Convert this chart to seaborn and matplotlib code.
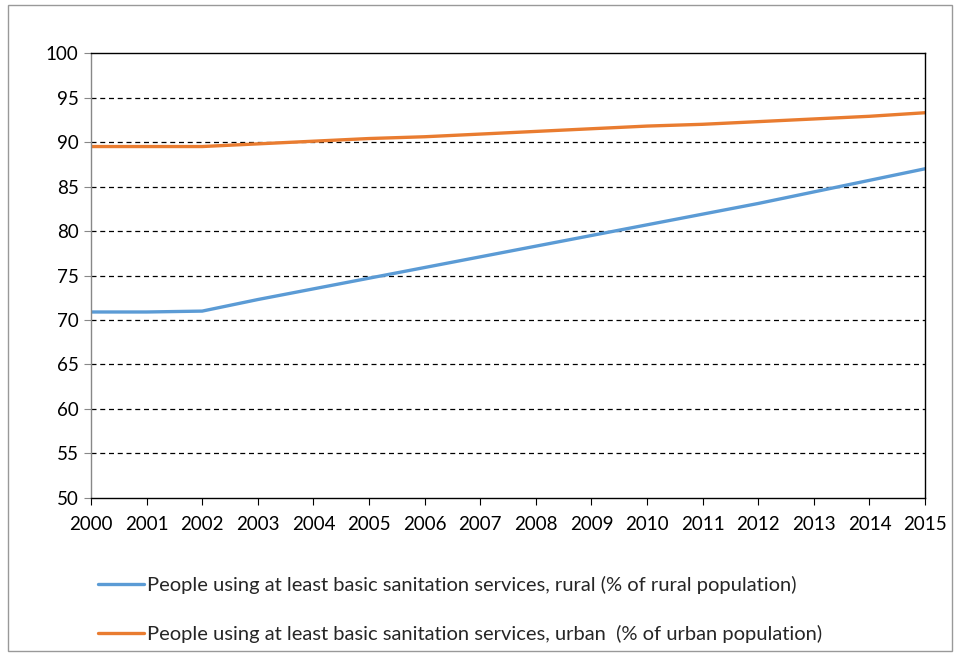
import numpy as np
import pandas as pd
import seaborn as sns
import matplotlib.pyplot as plt
from matplotlib.patches import Rectangle

years = list(range(2000, 2016))
rural = [70.9, 70.9, 71.0, 72.3, 73.5, 74.7, 75.9, 77.1, 78.3, 79.5, 80.7, 81.9, 83.1, 84.4, 85.7, 87.0]
urban = [89.5, 89.5, 89.5, 89.8, 90.1, 90.4, 90.6, 90.9, 91.2, 91.5, 91.8, 92.0, 92.3, 92.6, 92.9, 93.3]
series_names = [
    'People using at least basic sanitation services, rural (% of rural population)',
    'People using at least basic sanitation services, urban  (% of urban population)',
]
colours = ['#5B9BD5', '#E97C30']

# long-form table for seaborn
df = pd.DataFrame({
    'year': years * 2,
    'value': rural + urban,
    'series': [series_names[0]] * len(years) + [series_names[1]] * len(years),
})

sns.set_style('white')
plt.rcParams['font.family'] = ['Lato', 'DejaVu Sans']

fig = plt.figure(figsize=(9.58, 6.56), dpi=100)
ax = fig.add_axes([0.095, 0.241, 0.8706, 0.678])

sns.lineplot(data=df, x='year', y='value', hue='series', palette=colours,
             linewidth=2.4, ax=ax, legend=True)

ax.set_xlim(2000, 2015)
ax.set_ylim(50, 100)
ax.set_xticks(years)
ax.set_yticks(np.arange(50, 101, 5))
ax.set(xlabel='', ylabel='')
ax.tick_params(axis='both', labelsize=13.5, length=5, direction='out', color='black',
               left=True, bottom=True, colors='black')
ax.tick_params(axis='x', pad=8)
ax.tick_params(axis='y', color='#888888', pad=4)

# dashed horizontal gridlines
ax.grid(False)
for v in np.arange(55, 100, 5):
    ax.axhline(v, color='black', linestyle=(0, (4, 3)), linewidth=0.9, zorder=0)

for side in ['top', 'right', 'bottom']:
    ax.spines[side].set_color('black')
    ax.spines[side].set_linewidth(1.0)
ax.spines['left'].set_color('#888888')
ax.spines['left'].set_linewidth(1.0)

handles, labels = ax.get_legend_handles_labels()
ax.legend_.remove()
fig.legend(handles, labels, loc='upper left', bbox_to_anchor=(0.094, 0.134),
           frameon=False, fontsize=14.5, handlelength=2.3, handletextpad=0.15,
           labelspacing=1.55, borderaxespad=0)

# outer frame of the picture
fig.patches.append(Rectangle((0.008, 0.008), 0.986, 0.985, transform=fig.transFigure,
                             fill=False, edgecolor='#999999', linewidth=1.0))

plt.savefig('out.png', dpi=100)
